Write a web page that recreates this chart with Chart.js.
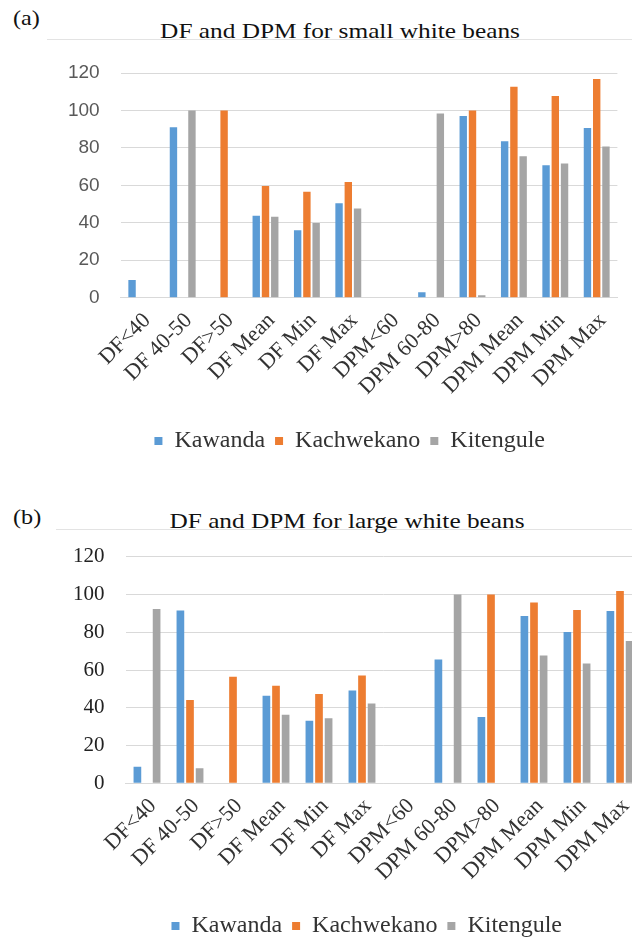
<!DOCTYPE html>
<html>
<head>
<meta charset="utf-8">
<script src="https://cdn.jsdelivr.net/npm/chart.js@4/dist/chart.umd.min.js"></script>
<style>
  html, body { margin: 0; padding: 0; background: #fff; }
  body { position: relative; width: 632px; height: 940px; overflow: hidden; }
  .panel-tag, .panel-title {
    position: absolute; font-family: "Liberation Serif", "Times New Roman", serif;
    font-size: 22px; line-height: 22px; color: #111; white-space: nowrap;
  }
  .panel-tag { transform-origin: left center; transform: scaleX(1.1); }
  .panel-title { transform: translateX(-50%) scaleX(1.15); }
  .frame-line { position: absolute; right: 0; height: 0; border-top: 1px solid #e3e3e3; }
  .chart-box { position: absolute; left: 0; }
</style>
</head>
<body>
  <div class="frame-line" style="left:47px; top:39px;"></div>
  <div class="panel-tag" style="left:13px; top:7px;">(a)</div>
  <div class="panel-title" style="left:340px; top:20px;">DF and DPM for small white beans</div>
  <div class="chart-box" style="top:0; width:632px; height:470px;"><canvas id="small"></canvas></div>

  <div class="frame-line" style="left:56px; top:529px;"></div>
  <div class="panel-tag" style="left:13px; top:506px;">(b)</div>
  <div class="panel-title" style="left:347px; top:510px;">DF and DPM for large white beans</div>
  <div class="chart-box" style="top:480px; width:660px; height:470px;"><canvas id="large"></canvas></div>

<script>
// Trait categories shared by both panels
const categories = ['DF<40', 'DF 40-50', 'DF>50', 'DF Mean', 'DF Min', 'DF Max',
                    'DPM<60', 'DPM 60-80', 'DPM>80', 'DPM Mean', 'DPM Min', 'DPM Max'];
const sites = ['Kawanda', 'Kachwekano', 'Kitengule'];
const yTicks = [0, 20, 40, 60, 80, 100, 120];

// (a) small white beans
const smallKawanda    = [9.5, 91, 0, 43.8, 36, 50.4, 0, 2.9, 97, 83.5, 70.8, 90.6];
const smallKachwekano = [0, 0, 100, 59.6, 56.6, 61.8, 0, 0, 100, 112.7, 107.7, 116.8];
const smallKitengule  = [0, 100, 0, 43.2, 39.9, 47.7, 0, 98.4, 1.3, 75.6, 71.7, 80.8];

// (b) large white beans
const largeKawanda    = [8.8, 91.5, 0, 46.4, 33.1, 49.1, 0, 65.6, 35.1, 88.6, 80.1, 91.3];
const largeKachwekano = [0, 44.1, 56.4, 51.6, 47.3, 57.1, 0, 0, 100, 95.7, 91.8, 101.9];
const largeKitengule  = [92.3, 8, 0, 36.3, 34.4, 42.2, 0, 100, 0, 67.7, 63.5, 75.3];

const siteColors = ['#5b9bd5', '#ed7d31', '#a5a5a5'];
const SERIF = "'Liberation Serif', 'Times New Roman', serif";
const SANS = "'Liberation Sans', Arial, sans-serif";

Chart.defaults.font.family = SERIF;

function makeDatasets(series) {
  return series.map((values, i) => ({
    label: sites[i],
    data: values,
    backgroundColor: siteColors[i],
    borderWidth: 0,
    categoryPercentage: 0.67,
    barPercentage: 0.8
  }));
}

// Nudges the bottom legend sideways after layout so it sits under the panel centre
function legendNudge(dx) {
  return {
    id: 'legendNudge',
    afterLayout(chart) {
      if (chart.legend) { chart.legend.left += dx; chart.legend.right += dx; }
    }
  };
}

function buildChart(id, series, opts) {
  return new Chart(document.getElementById(id), {
    type: 'bar',
    data: { labels: categories, datasets: makeDatasets(series) },
    plugins: [legendNudge(opts.legendDx)],
    options: {
      responsive: true,
      maintainAspectRatio: false,
      animation: false,
      layout: { padding: opts.padding },
      plugins: {
        title: { display: false },
        tooltip: { enabled: false },
        legend: {
          position: 'bottom',
          labels: {
            boxWidth: 8, boxHeight: 8, padding: 10,
            color: opts.legendColor,
            font: { family: SERIF, size: opts.legendSize }
          }
        }
      },
      scales: {
        x: {
          grid: { display: false, drawTicks: false },
          border: { display: true, color: '#d9d9d9', width: 1 },
          ticks: {
            minRotation: 45, maxRotation: 45, autoSkip: false,
            padding: 10, labelOffset: 6,
            color: opts.xColor,
            font: { family: SERIF, size: opts.xSize }
          },
          afterFit: s => { s.height = opts.xHeight; }
        },
        y: {
          min: 0, max: 120,
          grid: { color: '#d9d9d9', lineWidth: 1, drawTicks: false },
          border: { display: false },
          afterBuildTicks: s => { s.ticks = yTicks.map(v => ({ value: v })); },
          ticks: {
            padding: opts.yPad,
            color: opts.yColor,
            font: { family: opts.yFamily, size: opts.ySize }
          },
          afterFit: s => { s.width = opts.yWidth; }
        }
      }
    }
  });
}

buildChart('small', [smallKawanda, smallKachwekano, smallKitengule], {
  padding: { top: 73, left: 50, right: 14.6, bottom: 7 },
  yWidth: 70.6, yPad: 21, yFamily: SANS, ySize: 19, yColor: '#595959',
  xHeight: 121.3, xSize: 22, xColor: '#333333',
  legendSize: 24, legendColor: '#333333', legendDx: 16
});

buildChart('large', [largeKawanda, largeKachwekano, largeKitengule], {
  padding: { top: 76.7, left: 56, right: 18.5, bottom: 2 },
  yWidth: 69.5, yPad: 21, yFamily: SERIF, ySize: 21, yColor: '#222222',
  xHeight: 120.7, xSize: 22, xColor: '#333333',
  legendSize: 24, legendColor: '#333333', legendDx: 18
});
</script>
</body>
</html>
